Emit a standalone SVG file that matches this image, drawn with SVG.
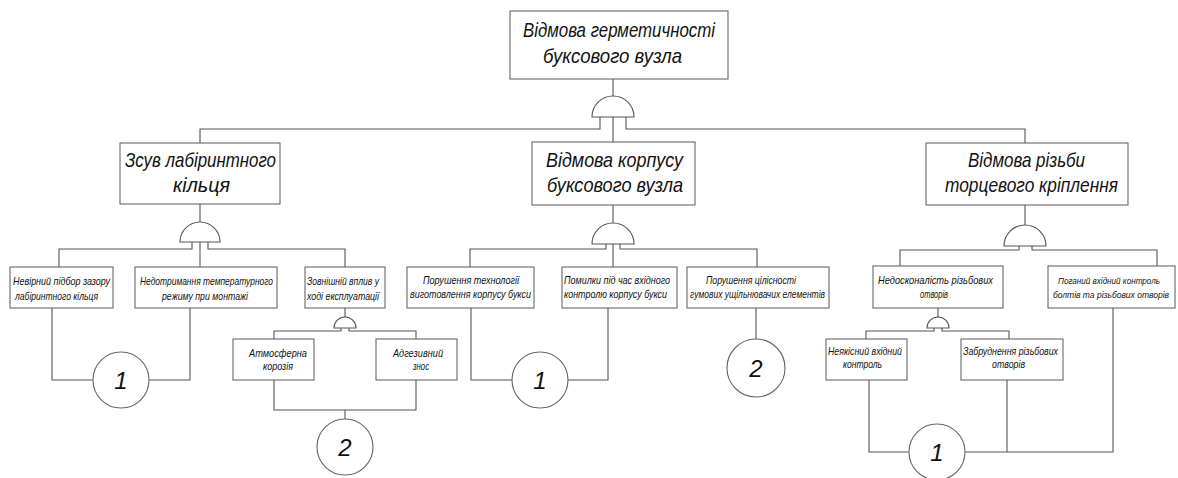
<svg xmlns="http://www.w3.org/2000/svg" width="1178" height="478" viewBox="0 0 1178 478">
<style>
.b{fill:#fff;stroke:#666;stroke-width:1.1}
.g{fill:#fff;stroke:#555;stroke-width:1.1}
.c{fill:none;stroke:#555;stroke-width:1.1}
text{font-family:"Liberation Sans",Arial,sans-serif;font-style:italic;fill:#111}
.L{font-size:21px}
.S{font-size:11px}
.T{font-size:9.5px}
.U{font-size:8.6px}
.N{font-size:24px;text-anchor:middle}
</style>
<rect width="1178" height="478" fill="#fff"/>
<g id="connectors">
<path class="c" d="M613,79V96M600,117V129H200V143M613,117V142M626,117V129H1025V143"/>
<path class="c" d="M200,204V222M192,242V249H59V267M200,242V267M208,242V249H345V267"/>
<path class="c" d="M52,308V380H93M149,380H190V308"/>
<path class="c" d="M345,308V317M341,328V331H274V339M349,328V331H416V339M274,380V410H416V380M345,410V419"/>
<path class="c" d="M613,205V223M606,244V249H470V267M613,244V267M620,244V249H757V267"/>
<path class="c" d="M471,308V380H512M568,380H608V308M756,308V339"/>
<path class="c" d="M1025,205V225M1019,246V250H900V266M1032,246V250H1157V266"/>
<path class="c" d="M938,308V317M934,328V331H866V339M942,328V331H1009V339"/>
<path class="c" d="M869,380V452H909M965,452H1113V308M1007,380V452"/>
</g>
<g id="gates">
<path class="g" d="M592,117A21,21 0 0 1 634,117Z"/>
<path class="g" d="M180,242A20,20 0 0 1 220,242Z"/>
<path class="g" d="M592,244A21,21 0 0 1 634,244Z"/>
<path class="g" d="M1004,246A21,21 0 0 1 1046,246Z"/>
<path class="g" d="M334,328A11,11 0 0 1 356,328Z"/>
<path class="g" d="M927,328A11,11 0 0 1 949,328Z"/>
</g>
<g id="top">
<rect class="b" x="510" y="11" width="218" height="68"/>
<text class="L" x="523" y="37" textLength="192" lengthAdjust="spacingAndGlyphs">Відмова герметичності</text>
<text class="L" x="543" y="63" textLength="139" lengthAdjust="spacingAndGlyphs">буксового вузла</text>
</g>
<g id="n-left">
<rect class="b" x="120" y="143" width="160" height="61"/>
<text class="L" x="125" y="167" textLength="151" lengthAdjust="spacingAndGlyphs">Зсув лабіринтного</text>
<text class="L" x="173" y="192" textLength="57" lengthAdjust="spacingAndGlyphs">кільця</text>
</g>
<g id="n-mid">
<rect class="b" x="532" y="142" width="163" height="63"/>
<text class="L" x="546" y="167" textLength="137" lengthAdjust="spacingAndGlyphs">Відмова корпусу</text>
<text class="L" x="547" y="192" textLength="136" lengthAdjust="spacingAndGlyphs">буксового вузла</text>
</g>
<g id="n-right">
<rect class="b" x="926" y="143" width="202" height="62"/>
<text class="L" x="968" y="167" textLength="117" lengthAdjust="spacingAndGlyphs">Відмова різьби</text>
<text class="L" x="945" y="192" textLength="173" lengthAdjust="spacingAndGlyphs">торцевого кріплення</text>
</g>
<g id="l1">
<rect class="b" x="10" y="267" width="103" height="41"/>
<text class="S" x="13" y="285" textLength="97" lengthAdjust="spacingAndGlyphs">Невірний підбор зазору</text>
<text class="S" x="15" y="300" textLength="83" lengthAdjust="spacingAndGlyphs">лабіринтного кільця</text>
</g>
<g id="l2">
<rect class="b" x="135" y="267" width="142" height="41"/>
<text class="S" x="140" y="285" textLength="133" lengthAdjust="spacingAndGlyphs">Недотримання температурного</text>
<text class="S" x="162" y="300" textLength="86" lengthAdjust="spacingAndGlyphs">режиму при монтажі</text>
</g>
<g id="l3">
<rect class="b" x="305" y="267" width="80" height="41"/>
<text class="S" x="307" y="285" textLength="72" lengthAdjust="spacingAndGlyphs">Зовнішній вплив у</text>
<text class="S" x="307" y="300" textLength="72" lengthAdjust="spacingAndGlyphs">ході експлуатації</text>
</g>
<g id="l3a">
<rect class="b" x="233" y="339" width="81" height="41"/>
<text class="S" x="249" y="357" textLength="58" lengthAdjust="spacingAndGlyphs">Атмосферна</text>
<text class="S" x="263" y="370" textLength="30" lengthAdjust="spacingAndGlyphs">корозія</text>
</g>
<g id="l3b">
<rect class="b" x="376" y="339" width="81" height="41"/>
<text class="S" x="393" y="357" textLength="50" lengthAdjust="spacingAndGlyphs">Адгезивний</text>
<text class="S" x="413" y="370" textLength="16" lengthAdjust="spacingAndGlyphs">знос</text>
</g>
<g id="m1">
<rect class="b" x="407" y="267" width="127" height="41"/>
<text class="S" x="423" y="284" textLength="96" lengthAdjust="spacingAndGlyphs">Порушення технології</text>
<text class="S" x="410" y="298" textLength="121" lengthAdjust="spacingAndGlyphs">виготовлення корпусу букси</text>
</g>
<g id="m2">
<rect class="b" x="562" y="267" width="115" height="41"/>
<text class="S" x="564" y="284" textLength="106" lengthAdjust="spacingAndGlyphs">Помилки під час вхідного</text>
<text class="S" x="564" y="298" textLength="103" lengthAdjust="spacingAndGlyphs">контролю корпусу букси</text>
</g>
<g id="m3">
<rect class="b" x="687" y="267" width="142" height="41"/>
<text class="S" x="706" y="284" textLength="90" lengthAdjust="spacingAndGlyphs">Порушення цілісності</text>
<text class="S" x="690" y="298" textLength="135" lengthAdjust="spacingAndGlyphs">гумових ущільнювачих елементів</text>
</g>
<g id="r1">
<rect class="b" x="873" y="266" width="130" height="42"/>
<text class="S" x="878" y="284" textLength="115" lengthAdjust="spacingAndGlyphs">Недосконалість різьбових</text>
<text class="S" x="920" y="298" textLength="28" lengthAdjust="spacingAndGlyphs">отворів</text>
</g>
<g id="r2">
<rect class="b" x="1048" y="266" width="127" height="42"/>
<text class="T" x="1058" y="284" textLength="102" lengthAdjust="spacingAndGlyphs">Поганий вхідний контроль</text>
<text class="U" x="1053" y="298" textLength="116" lengthAdjust="spacingAndGlyphs">болтів та різьбових отворів</text>
</g>
<g id="r1a">
<rect class="b" x="826" y="339" width="81" height="41"/>
<text class="S" x="828" y="355" textLength="74" lengthAdjust="spacingAndGlyphs">Неякісний вхідний</text>
<text class="S" x="843" y="368" textLength="39" lengthAdjust="spacingAndGlyphs">контроль</text>
</g>
<g id="r1b">
<rect class="b" x="961" y="339" width="102" height="41"/>
<text class="S" x="963" y="355" textLength="95" lengthAdjust="spacingAndGlyphs">Забруднення різьбових</text>
<text class="S" x="992" y="368" textLength="33" lengthAdjust="spacingAndGlyphs">отворів</text>
</g>
<g id="c1-left">
<circle class="b" cx="121" cy="380" r="28"/>
<text class="N" x="121" y="389">1</text>
</g>
<g id="c2-left">
<circle class="b" cx="345" cy="447" r="28"/>
<text class="N" x="345" y="456">2</text>
</g>
<g id="c1-mid">
<circle class="b" cx="540" cy="380" r="28"/>
<text class="N" x="540" y="389">1</text>
</g>
<g id="c2-mid">
<circle class="b" cx="756" cy="368" r="29"/>
<text class="N" x="756" y="377">2</text>
</g>
<g id="c1-right">
<circle class="b" cx="937" cy="452" r="28"/>
<text class="N" x="937" y="461">1</text>
</g>
</svg>
